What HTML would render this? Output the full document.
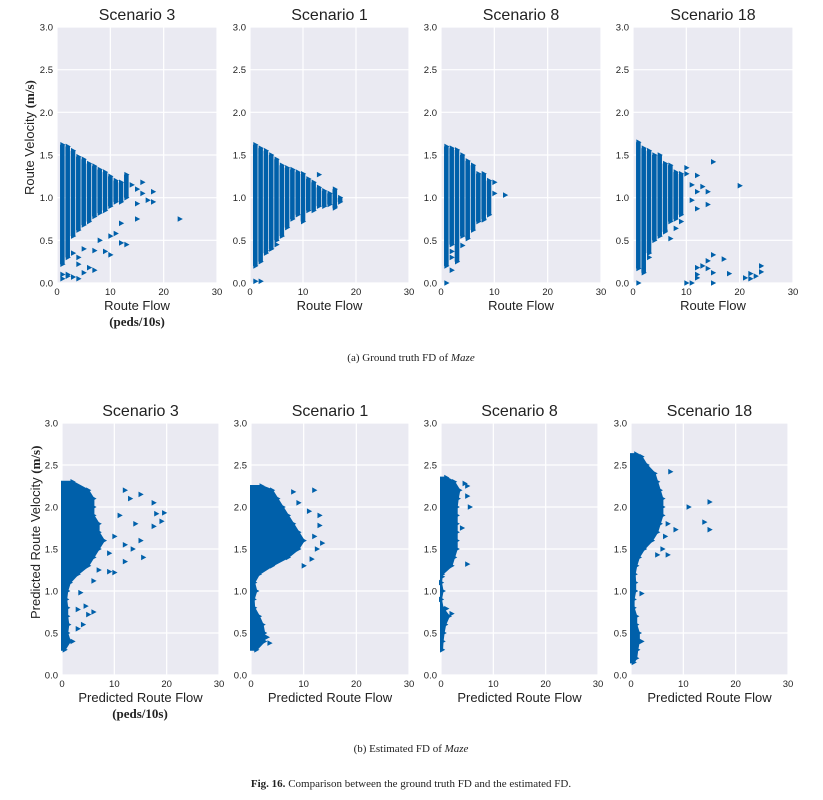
<!DOCTYPE html>
<html><head><meta charset="utf-8"><style>
body{margin:0;background:#fff;width:823px;height:800px;overflow:hidden;position:relative}
svg{display:block}
.t{font-family:"Liberation Sans",sans-serif;fill:#222}
.s{font-family:"Liberation Serif",serif;fill:#222}
</style></head><body>
<svg id="fig" width="823" height="800"></svg>
<script>
// ---------- Data ----------
const xTicks=[0,10,20,30];
const yTicks=[0.0,0.5,1.0,1.5,2.0,2.5,3.0];
const titles=["Scenario 3","Scenario 1","Scenario 8","Scenario 18"];
const s3Flow=[1,2,3,4,5,6,7,8,9,10,11,12,13];
const s3Vmax=[1.62,1.6,1.55,1.48,1.45,1.4,1.37,1.33,1.3,1.25,1.2,1.18,1.27];
const s3Vmin=[0.22,0.3,0.55,0.62,0.68,0.72,0.78,0.82,0.85,0.9,0.95,0.95,1.0];
const s3OutF=[14,15,16,16,18,18,17,15,23,15,12,10,11,12,13,8,9,10,7,5,3,4,6,7,2,3,4,1,1,2,5,4];
const s3OutV=[1.15,1.1,1.18,1.05,1.07,0.95,0.97,0.93,0.75,0.75,0.7,0.55,0.58,0.47,0.45,0.5,0.37,0.33,0.38,0.4,0.35,0.3,0.18,0.15,0.08,0.07,0.22,0.1,0.05,0.1,0.12,0.05];
const s1Flow=[1,2,3,4,5,6,7,8,9,10,11,12,13,14,15,16,17];
const s1Vmax=[1.62,1.58,1.55,1.5,1.45,1.38,1.35,1.33,1.3,1.28,1.22,1.18,1.12,1.08,1.05,1.1,1.0];
const s1Vmin=[0.2,0.25,0.35,0.4,0.5,0.55,0.65,0.75,0.8,0.72,0.85,0.85,0.9,0.9,0.92,0.88,0.95];
const s1OutF=[1,2,4,5,3,13,16];
const s1OutV=[0.02,0.02,0.4,0.45,0.38,1.27,0.9];
const s8Flow=[1,2,3,4,5,6,7,8,9];
const s8Vmax=[1.6,1.58,1.56,1.5,1.43,1.38,1.28,1.28,1.2];
const s8Vmin=[0.2,0.45,0.25,0.55,0.52,0.62,0.72,0.75,0.8];
const s8OutF=[10,10,12,9,8,2,2,2,4,1];
const s8OutV=[1.18,1.05,1.03,0.8,0.74,0.15,0.3,0.37,0.44,0.0];
const s18Flow=[1,2,3,4,5,6,7,8,9];
const s18Vmax=[1.65,1.58,1.55,1.5,1.5,1.4,1.38,1.3,1.28];
const s18Vmin=[0.17,0.12,0.35,0.5,0.55,0.6,0.72,0.75,0.8];
const s18OutF=[10,10,12,11,13,12,14,11,12,14,15,20,3,7,8,6,9,15,14,17,12,13,14,12,12,15,18,21,22,22,23,24,24,10,11,15,1];
const s18OutV=[1.35,1.28,1.26,1.15,1.13,1.07,1.07,0.97,0.87,0.92,1.42,1.14,0.3,0.52,0.64,0.62,0.72,0.33,0.26,0.28,0.18,0.2,0.17,0.1,0.06,0.12,0.11,0.06,0.11,0.05,0.08,0.2,0.13,0.0,0.0,0.0,0.0];
const p3V=[0.3,0.4,0.5,0.6,0.7,0.8,0.9,1.0,1.1,1.2,1.3,1.4,1.5,1.6,1.7,1.8,1.9,2.0,2.1,2.2,2.3];
const p3F=[0.5,1.5,1,1.2,1,1,0.8,1,1.5,3,5,6,7,8,7,7,6,6,6,5,2];
const p3OutF=[12,15,17.5,19.5,18,19,17.5,14,15,15.5,13.5,12,10,9,7,6,3.5,4.5,6,5,4,3,2,3,10,11,13,9,12];
const p3OutV=[2.2,2.15,2.05,1.93,1.92,1.83,1.77,1.8,1.6,1.4,1.5,1.35,1.22,1.23,1.25,1.12,0.98,0.82,0.75,0.72,0.6,0.55,0.4,0.78,1.65,1.9,2.1,1.45,1.55];
const p1V=[0.3,0.4,0.5,0.6,0.7,0.8,0.9,1.0,1.1,1.2,1.3,1.4,1.5,1.6,1.7,1.8,1.9,2.0,2.1,2.2,2.25];
const p1F=[1,2.5,2.5,2.2,1.5,0.6,0.5,1,0.6,1.5,4,7,9,10,9,8,7,6,5,4,2];
const p1OutF=[12,13,13,13.5,12.5,11.5,10,11,12,9,8,3,3.5];
const p1OutV=[2.2,1.9,1.78,1.57,1.5,1.38,1.3,1.95,1.65,2.05,2.18,0.45,0.38];
const p8V=[0.3,0.4,0.5,0.6,0.7,0.8,0.9,1.0,1.1,1.2,1.3,1.4,1.5,1.6,1.7,1.8,1.9,2.0,2.1,2.2,2.3,2.35];
const p8F=[0.2,0.3,0.5,0.8,1.5,0.3,0,0.3,0,0.2,2,2.5,3,3,3,3,3,3,3.2,3.5,2.5,1];
const p8OutF=[5,5,5.5,4,5,2,1,0.3,0.2,4.5];
const p8OutV=[2.25,2.13,2.0,1.75,1.32,0.73,0.79,1.0,1.17,2.28];
const p18V=[0.15,0.2,0.3,0.4,0.5,0.6,0.7,0.8,0.9,1.0,1.1,1.2,1.3,1.4,1.5,1.6,1.7,1.8,1.9,2.0,2.1,2.2,2.3,2.4,2.5,2.6,2.63];
const p18F=[0.5,1,1.2,1.5,1.5,1,1,0.5,0.5,0.8,0.8,0.7,1,1.5,2.5,4,5,5.5,6,6,6,5.5,5,4.5,3,2,1];
const p18OutF=[15,11,14,15,8.5,7.5,6,5,7,2,2,7,6.5];
const p18OutV=[2.06,2.0,1.82,1.73,1.73,2.42,1.5,1.43,1.43,0.97,0.4,1.8,1.65];

const topBox=[[57,217],[250,409],[441,601],[633,793]], topY=[27,283];
const botBox=[[62,219],[251,409],[441,598],[631,788]], botY=[423,675];
const topData=[[s3Flow,s3Vmax,s3Vmin,s3OutF,s3OutV],[s1Flow,s1Vmax,s1Vmin,s1OutF,s1OutV],[s8Flow,s8Vmax,s8Vmin,s8OutF,s8OutV],[s18Flow,s18Vmax,s18Vmin,s18OutF,s18OutV]];
const botData=[[p3V,p3F,p3OutF,p3OutV],[p1V,p1F,p1OutF,p1OutV],[p8V,p8F,p8OutF,p8OutV],[p18V,p18F,p18OutF,p18OutV]];
const NS="http://www.w3.org/2000/svg", svg=document.getElementById('fig');
const C="#0060aa";
function el(tag,attrs,parent,txt){const e=document.createElementNS(NS,tag);for(const k in attrs)e.setAttribute(k,attrs[k]);if(txt!==undefined)e.textContent=txt;(parent||svg).appendChild(e);return e;}
function tri(g,x,y){const p=el('polygon',{points:`${x-2},${y-2.8} ${x+3.2},${y} ${x-2},${y+2.8}`,fill:C},g);

}

function panel(box,yr,idx,row){
  const [x0,x1]=box,[y0,y1]=yr;
  const sx=v=>x0+(x1-x0)*v/30, sy=v=>y1-(y1-y0)*v/3;
  const g=el('g',{});
  
  
  el('rect',{x:x0,y:y0,width:x1-x0,height:y1-y0,fill:'#eaeaf2'},g);
  xTicks.forEach(t=>{el('line',{x1:sx(t),x2:sx(t),y1:y0,y2:y1,stroke:'#fff','stroke-width':1.2},g);
    const tl=el('text',{x:sx(t),y:y1+12,'text-anchor':'middle','font-size':9.5,class:'t'},g,t);
    
    });
  yTicks.forEach(t=>{el('line',{x1:x0,x2:x1,y1:sy(t),y2:sy(t),stroke:'#fff','stroke-width':1.2},g);
    const tl=el('text',{x:x0-4,y:sy(t)+3.5,'text-anchor':'end','font-size':9.5,class:'t'},g,t.toFixed(1));
    
    });
  const tt=el('text',{x:(x0+x1)/2,y:y0-7,'text-anchor':'middle','font-size':16,class:'t'},g,titles[idx]);
  
  
  const xl=el('text',{x:(x0+x1)/2,y:y1+27,'text-anchor':'middle','font-size':13,class:'t'},g,row==0?'Route Flow':'Predicted Route Flow');
  
  
  if(row==0){
    const [F,VX,VN,OF,OV]=topData[idx];
    F.forEach((f,i)=>{const r=el('rect',{x:sx(f)-2.3,y:sy(VX[i]),width:4.6,height:sy(VN[i])-sy(VX[i]),fill:C},g);
      
      
      tri(g,sx(f),sy(VX[i]));tri(g,sx(f),sy(VN[i]));});
    OF.forEach((f,i)=>tri(g,sx(f),sy(OV[i])));
  } else {
    const [V,FM,OF,OV]=botData[idx];
    const pts=[[sx(0),sy(V[0])]];
    V.forEach((v,i)=>pts.push([sx(FM[i]),sy(v)]));
    pts.push([sx(0),sy(V[V.length-1])]);
    const p=el('polygon',{points:pts.map(q=>q.join(',')).join(' '),fill:C,stroke:C,'stroke-width':2},g);
    
    
    V.forEach((v,i)=>tri(g,sx(FM[i]),sy(v)));
    OF.forEach((f,i)=>tri(g,sx(f),sy(OV[i])));
  }
}
for(let i=0;i<4;i++){panel(topBox[i],topY,i,0);panel(botBox[i],botY,i,1);}
</script>
<svg width="823" height="800" style="position:absolute;left:0;top:0">
<text transform="translate(34,195) rotate(-90)" font-size="13" class="t">Route Velocity <tspan class="s" font-weight="bold" font-size="13"> (m/s)</tspan></text>
<text x="137" y="326" text-anchor="middle" font-size="13" font-weight="bold" class="s" fill="#333">(peds/10s)</text>
<text x="411" y="361" text-anchor="middle" font-size="11" class="s">(a) Ground truth FD of <tspan font-style="italic">Maze</tspan></text>
<text transform="translate(40,619) rotate(-90)" font-size="13" class="t">Predicted Route Velocity <tspan class="s" font-weight="bold"> (m/s)</tspan></text>
<text x="140" y="718" text-anchor="middle" font-size="13" font-weight="bold" class="s" fill="#333">(peds/10s)</text>
<text x="411" y="752" text-anchor="middle" font-size="11" class="s">(b) Estimated FD of <tspan font-style="italic">Maze</tspan></text>
<text x="411" y="787" text-anchor="middle" font-size="11" class="s"><tspan font-weight="bold">Fig. 16.</tspan>  Comparison between the ground truth FD and the estimated FD.</text>
</svg>
</body></html>
